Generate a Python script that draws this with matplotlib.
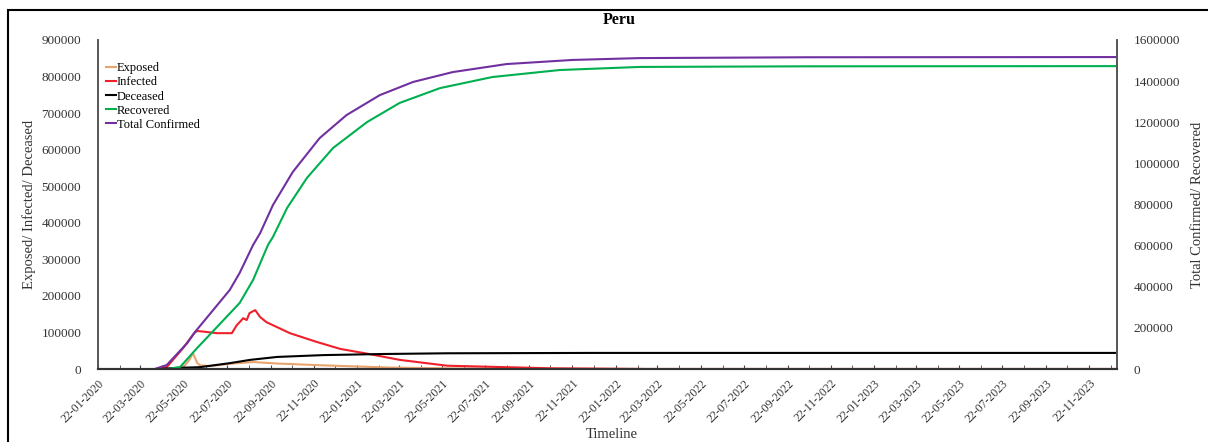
import numpy as np
import pandas as pd
import matplotlib
matplotlib.use("Agg")
import matplotlib.pyplot as plt
import matplotlib.dates as mdates
from matplotlib.patches import Rectangle

plt.rcParams['font.family'] = ['Liberation Serif', 'DejaVu Serif']

# series (left axis: exposed / infected / deceased)
exposed_dates = ['2020-05-14', '2020-05-24', '2020-05-31', '2020-06-04', '2020-06-10',
                 '2020-06-14', '2020-06-28', '2020-07-31', '2020-08-28', '2020-10-01',
                 '2020-12-05', '2021-03-09', '2021-06-02', '2021-10-21', '2023-12-31']
exposed = [0, 10000, 28000, 44000, 17000, 10000, 8000, 15000, 19000, 15000,
           10000, 4000, 1500, 0, 0]

infected_dates = ['2020-04-18', '2020-04-28', '2020-05-21', '2020-06-07', '2020-06-11',
                  '2020-07-08', '2020-07-29', '2020-08-05', '2020-08-09', '2020-08-14',
                  '2020-08-19', '2020-08-23', '2020-08-31', '2020-09-07', '2020-09-16',
                  '2020-10-19', '2020-11-26', '2020-12-29', '2021-02-05', '2021-03-23',
                  '2021-05-29', '2021-10-21', '2022-03-11', '2023-12-31']
infected = [0, 5000, 57000, 101000, 104000, 98000, 98000, 120000, 128000, 139000,
            134000, 153000, 161000, 142000, 128000, 98000, 74000, 55000, 42000, 25000,
            9000, 2000, 0, 0]

deceased_dates = ['2020-04-16', '2020-05-12', '2020-06-14', '2020-07-26', '2020-08-24',
                  '2020-10-01', '2020-12-05', '2021-02-27', '2021-05-29', '2021-12-22',
                  '2023-12-31']
deceased = [0, 3000, 5000, 16000, 25000, 33000, 38000, 41000, 43000, 44000, 44000]

# right axis: recovered / total confirmed
recovered_dates = ['2020-04-30', '2020-05-17', '2020-06-10', '2020-07-08', '2020-08-09',
                   '2020-08-28', '2020-09-18', '2020-09-25', '2020-10-15', '2020-11-12',
                   '2020-12-19', '2021-02-05', '2021-03-23', '2021-05-19', '2021-08-01',
                   '2021-11-04', '2022-02-25', '2022-10-18', '2023-12-31']
recovered = [0, 10000, 102000, 204000, 321000, 433000, 603000, 642000, 783000, 929000,
             1075000, 1201000, 1294000, 1366000, 1420000, 1454000, 1469000, 1472000, 1473000]

confirmed_dates = ['2020-04-11', '2020-04-28', '2020-05-27', '2020-06-07', '2020-07-26',
                   '2020-08-09', '2020-08-28', '2020-09-07', '2020-09-25', '2020-10-23',
                   '2020-11-30', '2021-01-07', '2021-02-23', '2021-04-11', '2021-06-06',
                   '2021-08-21', '2021-11-22', '2022-02-25', '2022-10-18', '2023-12-31']
confirmed = [0, 19000, 126000, 180000, 384000, 467000, 603000, 661000, 797000, 958000,
             1123000, 1235000, 1332000, 1396000, 1444000, 1483000, 1503000, 1512000,
             1516000, 1517000]

left_ticks = list(range(0, 900001, 100000))
right_ticks = list(range(0, 1600001, 200000))

fig = plt.figure(figsize=(12.08, 4.42), dpi=100)
ax = fig.add_axes([98 / 1208, 1 - 369 / 442, (1117 - 98) / 1208, (369 - 40) / 442])
ax2 = ax.twinx()

l1, = ax.plot(pd.to_datetime(exposed_dates), exposed, color='#E9A46E', lw=1.5, label='Exposed')
l2, = ax.plot(pd.to_datetime(infected_dates), infected, color='#F0202A', lw=1.5, label='Infected')
l3, = ax.plot(pd.to_datetime(deceased_dates), deceased, color='black', lw=1.5, label='Deceased')
l4, = ax2.plot(pd.to_datetime(recovered_dates), recovered, color='#00B050', lw=1.5, label='Recovered')
l5, = ax2.plot(pd.to_datetime(confirmed_dates), confirmed, color='#7030A0', lw=1.5, label='Total Confirmed')

ax.set_xlim(pd.Timestamp('2020-01-22'), pd.Timestamp('2023-12-31'))
ax.set_ylim(0, 900000)
ax2.set_ylim(0, 1600000)
ax.set_yticks(left_ticks)
ax2.set_yticks(right_ticks)
ax.set_yticklabels([str(v) for v in left_ticks], fontsize=9.5, color='#333333')
ax2.set_yticklabels([str(v) for v in right_ticks], fontsize=9.5, color='#333333')
ax.tick_params(axis='y', length=0, pad=12)
ax2.tick_params(axis='y', length=0, pad=12)

major = pd.date_range('2020-01-22', '2023-11-22', freq=pd.DateOffset(months=2))
minor = pd.date_range('2020-01-22', '2023-12-22', freq=pd.DateOffset(months=1))
ax.set_xticks(major)
ax.set_xticks(minor, minor=True)
ax.xaxis.set_major_formatter(mdates.DateFormatter('%d-%m-%Y'))
ax.tick_params(axis='x', which='both', direction='in', length=3, color='#444444', pad=6)
for lab in ax.get_xticklabels():
    lab.set_rotation(45)
    lab.set_ha('right')
    lab.set_rotation_mode('anchor')
    lab.set_fontsize(8.5)
    lab.set_color('#333333')

for a in (ax, ax2):
    a.spines['top'].set_visible(False)
    a.spines['left'].set_color('#555555')
    a.spines['right'].set_color('#555555')
    a.spines['bottom'].set_color('#333333')
    a.spines['left'].set_linewidth(1.2)
    a.spines['right'].set_linewidth(1.2)
    a.spines['bottom'].set_linewidth(1.5)

ax.set_ylabel('Exposed/ Infected/ Deceased', fontsize=10.5, color='#333333', labelpad=4)
ax2.set_ylabel('Total Confirmed/ Recovered', fontsize=10.5, color='#333333', labelpad=8)
fig.text(612 / 1208, 1 - 434 / 442, 'Timeline', ha='center', va='center', fontsize=10.5, color='#333333')
fig.text(619 / 1208, 1 - 20 / 442, 'Peru', ha='center', va='center', fontsize=11.5, fontweight='bold')

ax.legend(handles=[l1, l2, l3, l4, l5], loc='upper left', bbox_to_anchor=(0.0, 0.955),
          frameon=False, fontsize=9, handlelength=0.8, handletextpad=0.1,
          labelspacing=0.17, borderaxespad=0.2)

# outer frame, running past the right and bottom edges like the source image
fig.patches.append(Rectangle((8 / 1208, -0.05), 1.05, 1.05 - 10 / 442,
                             transform=fig.transFigure, fill=False, ec='black', lw=1.5))

fig.savefig('out.png', dpi=100)
